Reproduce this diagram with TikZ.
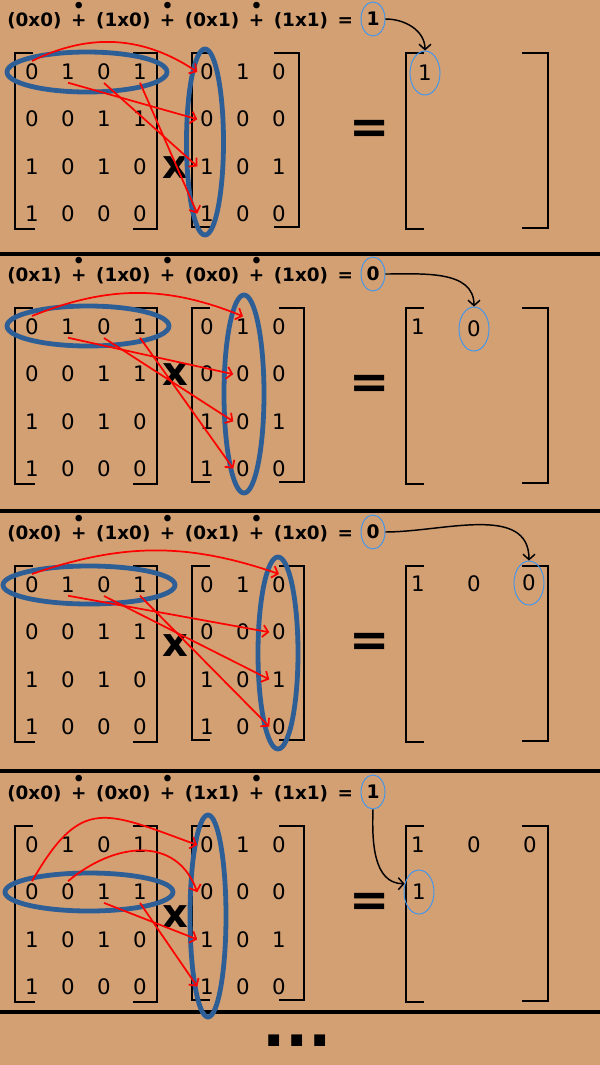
\documentclass[tikz,border=0pt]{standalone}
\usepackage{fontspec}
\setmainfont{DejaVu Sans}
\usetikzlibrary{arrows.meta,shapes.geometric}
\definecolor{paper}{RGB}{211,160,116}
\definecolor{ringblue}{RGB}{45,95,150}
\definecolor{pickblue}{RGB}{60,150,240}
% plus with a dot above, with the gaps round it
\newcommand\dplus{\hspace{0.52em}\rlap{+}\makebox[\fontcharwd\font`\+][c]{\raisebox{0.78em}{\fontsize{14}{14}\selectfont •}}\hspace{0.52em}}
\newcommand\eqsign{\hspace{0.52em}=}
\tikzset{
  digit/.style={inner sep=2pt, font=\fontsize{16}{19}\selectfont},
  eqtext/.style={anchor=base west, inner sep=0pt, font=\bfseries\fontsize{13.8}{17}\selectfont},
  result/.style={ellipse, draw=pickblue, line width=0.7pt, inner sep=0pt,
    minimum width=18pt, minimum height=25.5pt, font=\bfseries\fontsize{14}{17}\selectfont},
  picked/.style={ellipse, draw=pickblue, line width=0.7pt, inner sep=0pt,
    minimum width=22.5pt, minimum height=33pt, font=\fontsize{16}{19}\selectfont},
  bracket/.style={line width=2.2pt},
  ring/.style={draw=ringblue, line width=3.6pt},
  pick/.style={red, line width=1.3pt, -{Straight Barb[length=4pt,width=9pt]}},
  carry/.style={black, line width=1.1pt, -{Straight Barb[length=4pt,width=9pt]}},
  sep/.style={line width=3pt},
  timessign/.style={inner sep=0pt, font=\bfseries\fontsize{30}{33}\selectfont},
  equalsign/.style={anchor=base, inner sep=0pt, font=\bfseries\fontsize{36}{40}\selectfont},
}
\begin{document}
\begin{tikzpicture}[x=0.75pt, y=0.75pt]
\useasboundingbox (0,0) rectangle (600,-1065);
\fill[paper] (0,0) rectangle (600,-1065);
\foreach \s in {254,511,771,1012}
  \draw[sep] (0,-\s) -- (600,-\s);

% one step per band: sum, A, B, brackets, signs
\foreach \p/\off/\terms/\res/\xy/\bx in {
    1/0/{(0x0)\dplus(1x0)\dplus(0x1)\dplus(1x1)\eqsign}/1/168/299,
    2/255/{(0x1)\dplus(1x0)\dplus(0x0)\dplus(1x0)\eqsign}/0/120/304,
    3/513/{(0x0)\dplus(1x0)\dplus(0x1)\dplus(1x0)\eqsign}/0/133/304,
    4/773/{(0x0)\dplus(0x0)\dplus(1x1)\dplus(1x1)\eqsign}/1/144/304}
{
  \begin{scope}[shift={(0,-\off)}]
    \node[eqtext] (eq\p) at (7,-26.5) {\terms};
    \node[result] (res\p) at (373,-19) {\res};
    \foreach \row [count=\r] in {{0,1,0,1},{0,0,1,1},{1,0,1,0},{1,0,0,0}}
      \foreach \v [count=\c] in \row
        \node[digit] (a\p-\r-\c) at ({-4+36*\c},{-24.8-47.2*\r}) {\v};
    \foreach \row [count=\r] in {{0,1,0},{0,0,0},{1,0,1},{1,0,0}}
      \foreach \v [count=\c] in \row
        \node[digit] (b\p-\r-\c) at ({171+36*\c},{-24.8-47.2*\r}) {\v};
    \draw[bracket] (33,-53) -- (15,-53) -- (15,-229) -- (35,-229);
    \draw[bracket] (133,-53) -- (157,-53) -- (157,-229) -- (133,-229);
    \draw[bracket] (210,-53) -- (192,-53) -- (192,-227) -- (210,-227);
    \draw[bracket] (\bx-25,-53) -- (\bx,-53) -- (\bx,-227) -- (\bx-25,-227);
    \draw[bracket] (424,-53) -- (406,-53) -- (406,-229) -- (424,-229);
    \draw[bracket] (522,-53) -- (548,-53) -- (548,-228) -- (522,-228);
    \node[timessign] (times\p) at (175,-\xy) {x};
    \node[equalsign] (equals\p) at (370,-143) {=};
  \end{scope}
}

% step 1
\begin{scope}
  \node[picked] (c1-1-1) at (425,-73) {1};
  \draw[ring] (87,-72) ellipse [x radius=80, y radius=20];
  \draw[ring] (205,-142) ellipse [x radius=18.5, y radius=93];
  \draw[pick] (a1-1-1.north) to[bend left=30] (b1-1-1.west);
  \draw[pick] (a1-1-2.south) -- (b1-2-1.west);
  \draw[pick] (a1-1-3.south) -- (b1-3-1.west);
  \draw[pick] (a1-1-4.south) -- (b1-4-1.west);
  \draw[carry] (res1.east) to[out=0,in=90] (c1-1-1.north);
\end{scope}

% step 2
\begin{scope}[shift={(0,-255)}]
  \node[digit] (c2-1-1) at (418,-72) {1};
  \node[picked] (c2-1-2) at (474,-74) {0};
  \draw[ring] (88,-71) ellipse [x radius=81, y radius=20];
  \draw[ring] (244,-139) ellipse [x radius=20, y radius=99];
  \draw[pick] (a2-1-1.north) to[bend left=22] (b2-1-2.north);
  \draw[pick] (a2-1-2.south) -- (b2-2-2.west);
  \draw[pick] (a2-1-3.south) -- (b2-3-2.west);
  \draw[pick] (a2-1-4.south) -- (b2-4-2.west);
  \draw[carry] (res2.east) to[out=0,in=90] (c2-1-2.north);
\end{scope}

% step 3
\begin{scope}[shift={(0,-513)}]
  \node[digit] (c3-1-1) at (418,-71) {1};
  \node[digit] (c3-1-2) at (474,-71) {0};
  \node[picked] (c3-1-3) at (529,-70) {0};
  \draw[ring] (89,-72) ellipse [x radius=86, y radius=19];
  \draw[ring] (278,-140) ellipse [x radius=20, y radius=96];
  \draw[pick] (a3-1-1.north) to[bend left=19] (b3-1-3.north);
  \draw[pick] (a3-1-2.south) -- (b3-2-3.west);
  \draw[pick] (a3-1-3.south) -- (b3-3-3.west);
  \draw[pick] (a3-1-4.south) -- (b3-4-3.west);
  \draw[carry] (res3.east) to[out=0,in=90] (c3-1-3.north);
\end{scope}

% step 4
\begin{scope}[shift={(0,-773)}]
  \node[digit] (c4-1-1) at (418,-72) {1};
  \node[digit] (c4-1-2) at (474,-72) {0};
  \node[digit] (c4-1-3) at (530,-72) {0};
  \node[picked] (c4-2-1) at (419,-119) {1};
  \draw[ring] (89,-119) ellipse [x radius=84, y radius=19];
  \draw[ring] (208,-143) ellipse [x radius=18, y radius=101];
  \draw[pick] (a4-2-1.north) to[out=60,in=160,looseness=1.5] (b4-1-1.west);
  \draw[pick] (a4-2-2.north) to[out=40,in=110,looseness=1.2] (b4-2-1.west);
  \draw[pick] (a4-2-3.south) -- (b4-3-1.west);
  \draw[pick] (a4-2-4.south) -- (b4-4-1.west);
  \draw[carry] (res4.south) to[out=-92,in=180] (c4-2-1.150);
\end{scope}

\node[anchor=base, inner sep=0pt, font=\bfseries\fontsize{46}{50}\selectfont] (more) at (297,-1046) {...};
\end{tikzpicture}
\end{document}
